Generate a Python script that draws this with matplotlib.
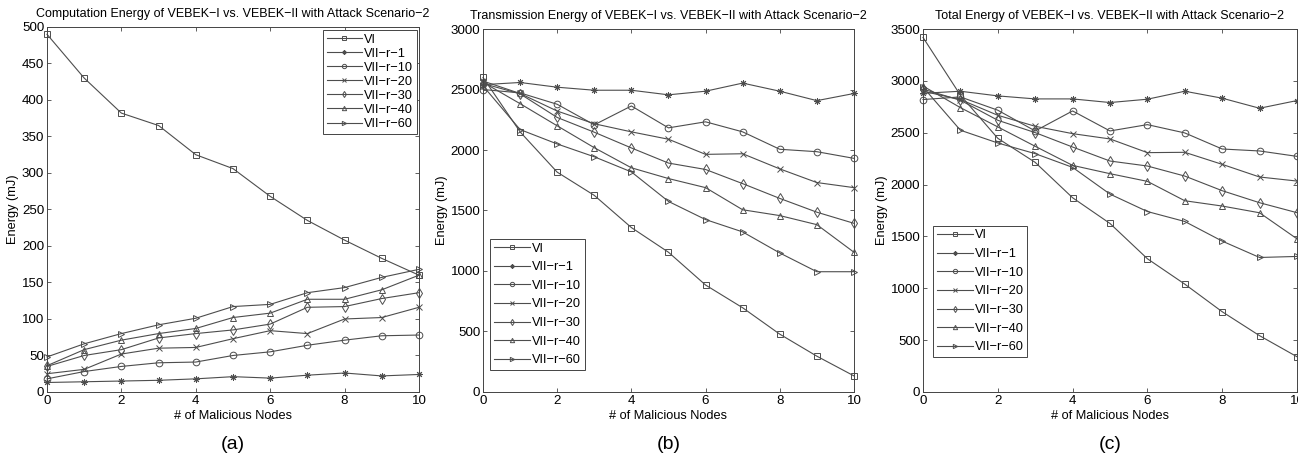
import matplotlib
matplotlib.use("Agg")
import matplotlib.pyplot as plt
from matplotlib.ticker import MultipleLocator

plt.rcParams['font.family'] = ['Liberation Sans', 'DejaVu Sans']

nodes = list(range(11))
series = ["VI", "VII\u2212r\u22121", "VII\u2212r\u221210", "VII\u2212r\u221220",
          "VII\u2212r\u221230", "VII\u2212r\u221240", "VII\u2212r\u221260"]
markers = ["s", (8, 2, 0), "o", "x", "d", "^", ">"]

# (a) computation energy
comp = [
    [490, 430, 382, 365, 325, 306, 268, 235, 208, 183, 160],
    [13, 14, 15, 16, 18, 21, 19, 23, 26, 22, 24],
    [18, 28, 35, 40, 41, 50, 55, 64, 71, 77, 78],
    [25, 31, 52, 60, 61, 73, 84, 80, 100, 102, 116],
    [35, 50, 58, 74, 80, 85, 93, 116, 117, 128, 136],
    [36, 58, 71, 80, 87, 102, 108, 127, 127, 140, 160],
    [48, 66, 80, 92, 101, 117, 120, 136, 143, 157, 168],
]

# (b) transmission energy
trans = [
    [2600, 2150, 1817, 1625, 1359, 1155, 884, 696, 478, 296, 133],
    [2540, 2558, 2519, 2494, 2494, 2456, 2486, 2553, 2486, 2408, 2467],
    [2500, 2472, 2378, 2208, 2364, 2183, 2233, 2150, 2006, 1986, 1931],
    [2570, 2467, 2322, 2217, 2150, 2089, 1964, 1969, 1844, 1731, 1689],
    [2550, 2464, 2269, 2147, 2017, 1892, 1839, 1722, 1600, 1486, 1394],
    [2560, 2383, 2200, 2019, 1853, 1764, 1689, 1506, 1458, 1383, 1155],
    [2530, 2169, 2050, 1944, 1819, 1575, 1425, 1323, 1149, 994, 994],
]

# (c) total energy
total = [
    [3419, 2862, 2446, 2214, 1873, 1625, 1285, 1040, 774, 543, 340],
    [2880, 2900, 2855, 2826, 2826, 2791, 2823, 2900, 2833, 2736, 2810],
    [2820, 2845, 2717, 2517, 2710, 2517, 2578, 2498, 2343, 2324, 2272],
    [2900, 2820, 2668, 2562, 2491, 2440, 2308, 2311, 2195, 2073, 2034],
    [2920, 2813, 2620, 2501, 2362, 2227, 2179, 2082, 1941, 1825, 1729],
    [2950, 2742, 2556, 2369, 2185, 2105, 2031, 1844, 1793, 1728, 1477],
    [2940, 2524, 2401, 2298, 2166, 1908, 1740, 1644, 1455, 1297, 1307],
]

titles = ["Computation Energy of VEBEK\u2212I vs. VEBEK\u2212II with Attack Scenario\u22122",
          "Transmission Energy of VEBEK\u2212I vs. VEBEK\u2212II with Attack Scenario\u22122",
          "Total Energy of VEBEK\u2212I vs. VEBEK\u2212II with Attack Scenario\u22122"]
letters = ["(a)", "(b)", "(c)"]

fig = plt.figure(figsize=(12.98, 4.54), dpi=100)
boxes = [[0.0362, 0.1366, 0.2866, 0.804],
         [0.3721, 0.1366, 0.2858, 0.7995],
         [0.7111, 0.1366, 0.2881, 0.7995]]
ylims = [(0, 500, 50), (0, 3000, 500), (0, 3500, 500)]
leg_pos = [dict(loc="upper right", bbox_to_anchor=(0.995, 0.992), labelspacing=0.16),
           dict(loc="lower left", bbox_to_anchor=(0.02, 0.06), labelspacing=0.52),
           dict(loc="lower left", bbox_to_anchor=(0.027, 0.096), labelspacing=0.52)]

col = "#4d4d4d"
for k, data in enumerate([comp, trans, total]):
    ax = fig.add_axes(boxes[k])
    for i, vals in enumerate(data):
        ax.plot(nodes, vals, color=col, lw=0.8, marker=markers[i], ms=4.8,
                mfc="none", mec=col, mew=0.7, label=series[i], clip_on=False)
    ax.set_xlim(0, 10)
    ax.set_ylim(ylims[k][0], ylims[k][1])
    ax.xaxis.set_major_locator(MultipleLocator(2))
    ax.yaxis.set_major_locator(MultipleLocator(ylims[k][2]))
    ax.tick_params(direction="in", top=True, right=True, length=3, width=0.6,
                   labelsize=9.6, pad=2, color="#444444")
    for s in ax.spines.values():
        s.set_linewidth(0.7)
        s.set_color("#444444")
    ax.set_title(titles[k], fontsize=9.0, pad=7)
    ax.set_xlabel("# of Malicious Nodes", fontsize=9.2, labelpad=2)
    ax.set_ylabel("Energy (mJ)", fontsize=9.2, labelpad=2)
    leg = ax.legend(fontsize=9.2, fancybox=False, framealpha=1, edgecolor="#444444",
                    handlelength=2.8, handletextpad=0.15, borderpad=0.3,
                    borderaxespad=0, markerscale=0.65, **leg_pos[k])
    leg.get_frame().set_linewidth(0.7)
    fig.text(boxes[k][0] + boxes[k][2] / 2, 0.012, letters[k], ha="center",
             fontsize=14)

fig.savefig("out.png", dpi=100)
